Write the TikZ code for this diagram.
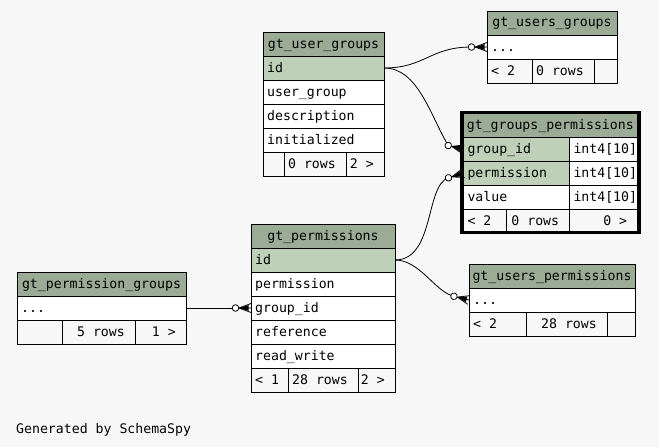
\documentclass[tikz,border=0pt]{standalone}
\usepackage{fontspec}
\newfontfamily\schemamono{DejaVu Sans Mono}
\usetikzlibrary{calc}

\definecolor{canvas}{HTML}{F7F7F7}
\definecolor{headfill}{HTML}{9BAB96}
\definecolor{keyfill}{HTML}{BED1B8}

\pgfdeclarelayer{bg}
\pgfdeclarelayer{edges}
\pgfsetlayers{bg,edges,main}

\tikzset{
  cellbox/.style={draw=black, line width=1pt, rectangle, anchor=north west,
    minimum height=24pt, inner sep=0pt, outer sep=0pt},
  celltext/.style={inner sep=0pt, text height=10.5pt, text depth=2.5pt,
    font=\schemamono\fontsize{13.2}{15}\selectfont},
  fk/.style={line width=0.8pt},
  % crow's foot with an open circle; origin on the table edge, pointing right
  crowodot/.pic={
    \draw[line width=0.8pt] (-12,0) -- (0,-4.5) (-12,0) -- (0,0) (-12,0) -- (0,4.5);
    \fill (-12,0) -- (-2.5,-2.8) -- (-2.5,2.8) -- cycle;
    \draw[line width=0.8pt, fill=white] (-15.5,0) circle (3.3);
    \coordinate (-o) at (-15.5,0);
  }
}

% table cell: name, x, y, width, fill
\newcommand\tcell[5]{\node[cellbox, fill=#5, minimum width=#4pt] (#1) at (#2,#3) {};}
\newcommand\lefttext[2]{\node[celltext, anchor=west] (#1-t) at ([xshift=4pt]#1.west) {#2};}
\newcommand\righttext[2]{\node[celltext, anchor=east] (#1-t) at ([xshift=-10pt]#1.east) {#2};}
\newcommand\midtext[2]{\node[celltext] (#1-t) at (#1.center) {#2};}

\begin{document}
\begin{tikzpicture}[x=1pt, y=-1pt]
\useasboundingbox (0,0) rectangle (659,447);
\begin{pgfonlayer}{bg}
  \fill[canvas] (0,0) rectangle (659,447);
\end{pgfonlayer}

% gt_user_groups
\tcell{ug-h}{263}{32}{121}{headfill}\midtext{ug-h}{gt\_user\_groups}
\tcell{ug-id}{263}{56}{121}{keyfill}\lefttext{ug-id}{id}
\tcell{ug-r2}{263}{80}{121}{white}\lefttext{ug-r2}{user\_group}
\tcell{ug-r3}{263}{104}{121}{white}\lefttext{ug-r3}{description}
\tcell{ug-r4}{263}{128}{121}{white}\lefttext{ug-r4}{initialized}
\tcell{ug-f1}{263}{152}{21}{canvas}
\tcell{ug-f2}{284}{152}{62}{canvas}\righttext{ug-f2}{0 rows}
\tcell{ug-f3}{346}{152}{38}{canvas}\righttext{ug-f3}{2 >}

% gt_users_groups
\tcell{ugs-h}{487}{11}{130}{headfill}\midtext{ugs-h}{gt\_users\_groups}
\tcell{ugs-r1}{487}{35}{130}{white}\lefttext{ugs-r1}{...}
\tcell{ugs-f1}{487}{59}{45}{canvas}\lefttext{ugs-f1}{< 2}
\tcell{ugs-f2}{532}{59}{62}{canvas}\righttext{ugs-f2}{0 rows}
\tcell{ugs-f3}{594}{59}{23}{canvas}

% gt_groups_permissions
\tcell{gp-h}{463.3}{113.3}{174}{headfill}\midtext{gp-h}{gt\_groups\_permissions}
\tcell{gp-r1}{463.3}{137.3}{106}{keyfill}\lefttext{gp-r1}{group\_id}
\tcell{gp-t1}{569.3}{137.3}{68}{white}\lefttext{gp-t1}{int4[10]}
\tcell{gp-r2}{463.3}{161.3}{106}{keyfill}\lefttext{gp-r2}{permission}
\tcell{gp-t2}{569.3}{161.3}{68}{white}\lefttext{gp-t2}{int4[10]}
\tcell{gp-r3}{463.3}{185.3}{106}{white}\lefttext{gp-r3}{value}
\tcell{gp-t3}{569.3}{185.3}{68}{white}\lefttext{gp-t3}{int4[10]}
\tcell{gp-f1}{463.3}{209.3}{43.4}{canvas}\lefttext{gp-f1}{< 2}
\tcell{gp-f2}{506.7}{209.3}{62.6}{canvas}\righttext{gp-f2}{0 rows}
\tcell{gp-f3}{569.3}{209.3}{68}{canvas}\righttext{gp-f3}{0 >}
\draw[line width=3.3pt] (461.65,112.35) rectangle (639.05,232.65);

% gt_permissions
\tcell{perm-h}{251}{224}{144}{headfill}\midtext{perm-h}{gt\_permissions}
\tcell{perm-id}{251}{248}{144}{keyfill}\lefttext{perm-id}{id}
\tcell{perm-r2}{251}{272}{144}{white}\lefttext{perm-r2}{permission}
\tcell{perm-r3}{251}{296}{144}{white}\lefttext{perm-r3}{group\_id}
\tcell{perm-r4}{251}{320}{144}{white}\lefttext{perm-r4}{reference}
\tcell{perm-r5}{251}{344}{144}{white}\lefttext{perm-r5}{read\_write}
\tcell{perm-f1}{251}{368}{37}{canvas}\lefttext{perm-f1}{< 1}
\tcell{perm-f2}{288}{368}{70}{canvas}\righttext{perm-f2}{28 rows}
\tcell{perm-f3}{358}{368}{37}{canvas}\righttext{perm-f3}{2 >}

% gt_permission_groups
\tcell{pg-h}{17}{272}{169}{headfill}\midtext{pg-h}{gt\_permission\_groups}
\tcell{pg-r1}{17}{296}{169}{white}\lefttext{pg-r1}{...}
\tcell{pg-f1}{17}{320}{45}{canvas}
\tcell{pg-f2}{62}{320}{73}{canvas}\righttext{pg-f2}{5 rows}
\tcell{pg-f3}{135}{320}{51}{canvas}\righttext{pg-f3}{1 >}

% gt_users_permissions
\tcell{up-h}{469}{264}{166}{headfill}\midtext{up-h}{gt\_users\_permissions}
\tcell{up-r1}{469}{288}{166}{white}\lefttext{up-r1}{...}
\tcell{up-f1}{469}{312}{57}{canvas}\lefttext{up-f1}{< 2}
\tcell{up-f2}{526}{312}{81}{canvas}\righttext{up-f2}{28 rows}
\tcell{up-f3}{607}{312}{28}{canvas}

% relationship ends
\pic (e1) at (ugs-r1.west) {crowodot};
\pic[rotate=-14] (e2) at (gp-r1.west) {crowodot};
\pic[rotate=17] (e3) at (gp-r2.west) {crowodot};
\pic[rotate=-14] (e4) at (up-r1.west) {crowodot};
\pic (e5) at (perm-r3.west) {crowodot};

\begin{pgfonlayer}{edges}
  \draw[fk] (ug-id.east) .. controls (425,68) and (430,47) .. (e1-o);
  \draw[fk] (ug-id.east) .. controls (418,68) and (430,115) .. (e2-o);
  \draw[fk] (perm-id.east) .. controls (435,260) and (425,185) .. (e3-o);
  \draw[fk] (perm-id.east) .. controls (420,260) and (435,292) .. (e4-o);
  \draw[fk] (pg-r1.east) -- (e5-o);
\end{pgfonlayer}

\node[celltext, anchor=west] (credit) at (16,429) {Generated by SchemaSpy};
\end{tikzpicture}
\end{document}
